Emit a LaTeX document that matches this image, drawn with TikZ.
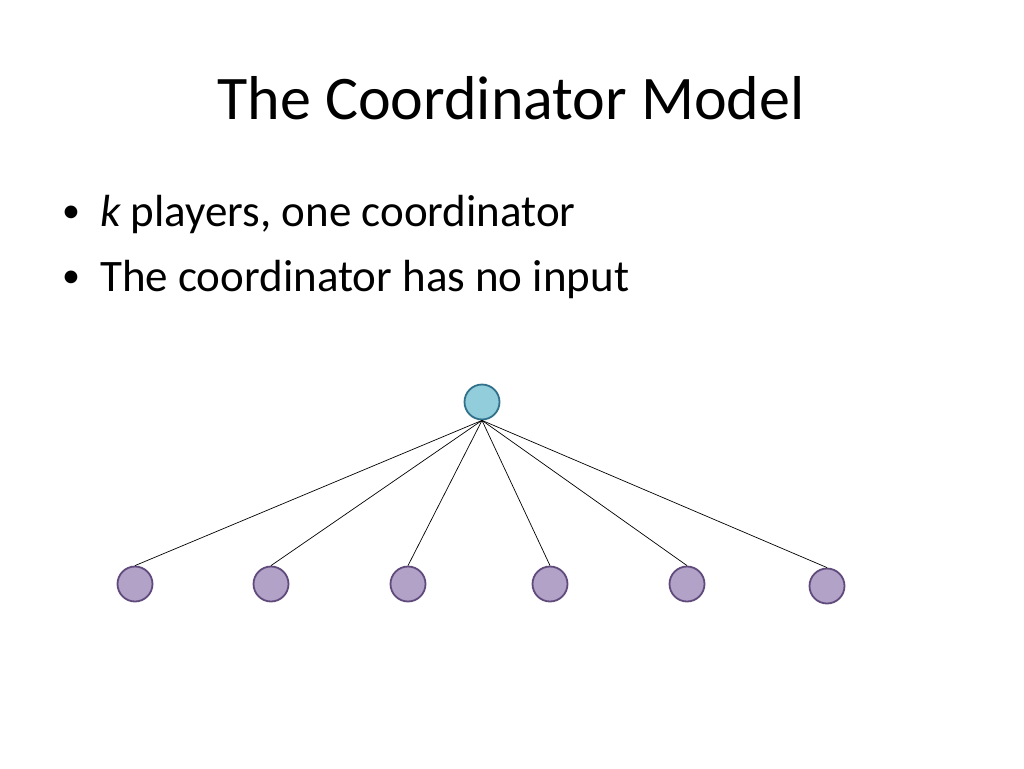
\documentclass[tikz,border=0pt]{standalone}
\usepackage{fontspec}
\setmainfont{Carlito}
\begin{document}
\begin{tikzpicture}[x=1pt,y=-1pt,
  coord/.style={circle,line width=1.8pt,minimum size=35pt,inner sep=0pt},
  player/.style={circle,line width=1.8pt,minimum size=35pt,inner sep=0pt},
  edge/.style={draw=black,line width=0.7pt},
  bul/.style={anchor=west,inner sep=0pt}]
\useasboundingbox (0,0) rectangle (1024,768);
\definecolor{cfill}{HTML}{92CDDC}\definecolor{cdraw}{HTML}{31708A}
\definecolor{pfill}{HTML}{B3A2C7}\definecolor{pdraw}{HTML}{5F4A7B}
\tikzset{coord/.append style={fill=cfill,draw=cdraw},player/.append style={fill=pfill,draw=pdraw}}
\node (title) at (511,98) {\fontsize{62}{70}\selectfont The Coordinator Model};
\node[bul] (d1) at (62,214) {\fontsize{36}{43}\selectfont •};
\node[bul] (b1) at (100,214) {\fontsize{45}{54}\selectfont $\mathit{k}$ players, one coordinator};
\node[bul] (d2) at (62,279) {\fontsize{36}{43}\selectfont •};
\node[bul] (b2) at (100,279) {\fontsize{45}{54}\selectfont The coordinator has no input};
\node[coord] (c) at (482,402) {};
\node[player] (p1) at (135,584) {};
\node[player] (p2) at (271,584) {};
\node[player] (p3) at (408,584) {};
\node[player] (p4) at (550,584) {};
\node[player] (p5) at (687,584) {};
\node[player] (p6) at (827,586) {};
\foreach \p in {p1,p2,p3,p4,p5,p6} \draw[edge] (c.south) -- (\p.north);
\end{tikzpicture}
\end{document}
